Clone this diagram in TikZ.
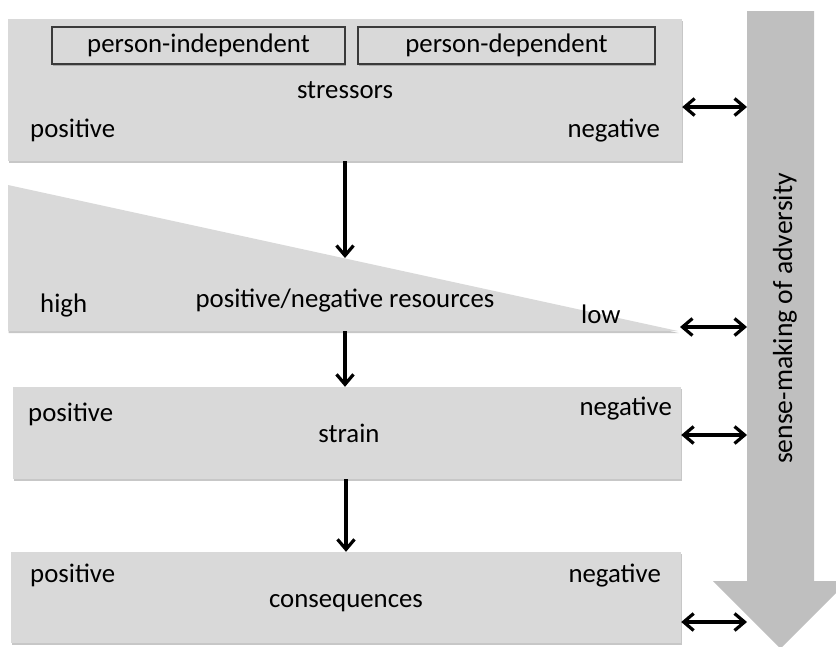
\documentclass[tikz,border=0pt]{standalone}
\usepackage{fontspec}
\setmainfont{Carlito}
\usetikzlibrary{arrows.meta,shadows}
\definecolor{boxgray}{HTML}{D9D9D9}
\definecolor{arrowgray}{HTML}{BFBFBF}
\definecolor{edgegray}{HTML}{3A3A3A}
\begin{document}
\begin{tikzpicture}[x=1pt,y=-1pt,
  font=\fontsize{26.8}{30}\selectfont,
  softshadow/.style={drop shadow={shadow xshift=0.6pt, shadow yshift=-2pt, fill=black, opacity=0.22}},
  panel/.style={rectangle, fill=boxgray, draw=none, inner sep=0pt, softshadow},
  tag/.style={rectangle, fill=boxgray, draw=edgegray, line width=1.4pt, inner sep=0pt, softshadow},
  txt/.style={inner sep=0pt},
  flow/.style={line width=3.2pt, -{Straight Barb[length=10pt,width=17pt]}},
  link/.style={line width=3.2pt, {Straight Barb[length=10pt,width=17pt]}-{Straight Barb[length=10pt,width=17pt]}},
]
\useasboundingbox (0,0) rectangle (836,646);
\clip (0,0) rectangle (836,646);

% the downward sense-making arrow on the right
\fill[arrowgray] (747,11) -- (814,11) -- (814,581) -- (848,581)
  -- (780.5,648.5) -- (713,581) -- (747,581) -- cycle;
\node[txt, rotate=90, font=\fontsize{27.6}{30}\selectfont] (sense) at (785,318.5)
  {sense-making of adversity};
\coordinate (s1) at (747,107);
\coordinate (s2) at (747,327);
\coordinate (s3) at (747,435);
\coordinate (s4) at (747,622);

% stressors
\node[panel, minimum width=674pt, minimum height=142pt] (stress) at (345,90) {};
\node[tag, minimum width=293pt, minimum height=37pt] (indep) at (198.5,45.5) {person-independent};
\node[tag, minimum width=297pt, minimum height=37pt] (dep) at (506.5,45.5) {person-dependent};
\node[txt, anchor=base] (stresslbl) at (345,98) {stressors};
\node[txt, anchor=base west] (spos) at (30,137) {positive};
\node[txt, anchor=base east] (sneg) at (660,137) {negative};

% resources wedge
\path[fill=boxgray, softshadow] (8,185) -- (678,331) -- (8,331) -- cycle;
\coordinate (restop) at (345,258);
\coordinate (resbot) at (345,331);
\coordinate (restip) at (680,327);
\node[txt, anchor=base west] (rhigh) at (40,312) {high};
\node[txt, anchor=base] (reslbl) at (345,307) {positive/negative resources};
\node[txt, anchor=base west] (rlow) at (581,323) {low};

% strain
\node[panel, minimum width=668pt, minimum height=92pt] (strain) at (347,433) {};
\node[txt, anchor=base west] (tpos) at (28,421) {positive};
\node[txt, anchor=base east] (tneg) at (672,415) {negative};
\node[txt, anchor=base] (strainlbl) at (349,442) {strain};

% consequences
\node[panel, minimum width=670pt, minimum height=91pt] (cons) at (346,597.5) {};
\node[txt, anchor=base west] (cpos) at (30,582) {positive};
\node[txt, anchor=base east] (cneg) at (661,582) {negative};
\node[txt, anchor=base] (conslbl) at (346,607) {consequences};

% vertical flow
\draw[flow] (stress.south) -- (restop);
\draw[flow] (resbot) -- (resbot |- strain.north);
\draw[flow] (strain.south -| cons.north) -- (cons.north);

% links to the sense-making arrow
\draw[link] (stress.east |- s1) -- (s1);
\draw[link] (restip |- s2) -- (s2);
\draw[link] (strain.east |- s3) -- (s3);
\draw[link] (cons.east |- s4) -- (s4);
\end{tikzpicture}
\end{document}
